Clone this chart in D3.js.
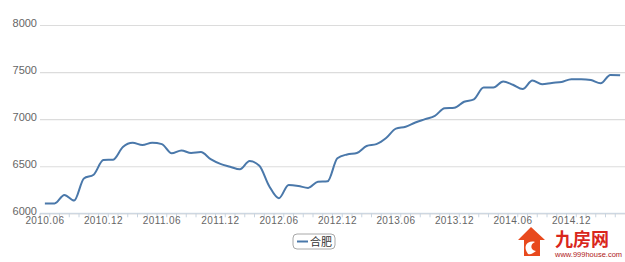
<!DOCTYPE html>
<html>
<head>
<meta charset="utf-8">
<script src="https://cdn.jsdelivr.net/npm/d3@7"></script>
<style>
  html, body { margin: 0; padding: 0; background: #fff; }
  svg { display: block; font-family: "Liberation Sans", Arial, sans-serif; }
</style>
</head>
<body>
<svg id="chart" width="625" height="262"></svg>
<script>
const months = [
  "2010.06", "2010.07", "2010.08", "2010.09", "2010.10", "2010.11", "2010.12",
  "2011.01", "2011.02", "2011.03", "2011.04", "2011.05", "2011.06", "2011.07", "2011.08", "2011.09", "2011.10", "2011.11", "2011.12",
  "2012.01", "2012.02", "2012.03", "2012.04", "2012.05", "2012.06", "2012.07", "2012.08", "2012.09", "2012.10", "2012.11", "2012.12",
  "2013.01", "2013.02", "2013.03", "2013.04", "2013.05", "2013.06", "2013.07", "2013.08", "2013.09", "2013.10", "2013.11", "2013.12",
  "2014.01", "2014.02", "2014.03", "2014.04", "2014.05", "2014.06", "2014.07", "2014.08", "2014.09", "2014.10", "2014.11", "2014.12",
  "2015.01", "2015.02", "2015.03", "2015.04", "2015.05"
];

const hefei = [
  6105, 6105, 6195, 6135, 6370, 6410, 6565,
  6570, 6705, 6750, 6725, 6750, 6735, 6637, 6668, 6640, 6650, 6575, 6525,
  6495, 6467, 6555, 6505, 6290, 6160, 6300, 6290, 6270, 6335, 6340, 6585,
  6625, 6640, 6715, 6735, 6800, 6900, 6920, 6965, 7000, 7035, 7115, 7120,
  7185, 7210, 7335, 7335, 7400, 7365, 7320, 7410, 7370, 7385, 7395, 7425,
  7425, 7415, 7380, 7470, 7465
];

const xLabels = ["2010.06", "2010.12", "2011.06", "2011.12", "2012.06", "2012.12", "2013.06", "2013.12", "2014.06", "2014.12"];
const yTicks = [6000, 6500, 7000, 7500, 8000];
const seriesName = "合肥";

const svg = d3.select("#chart");
const plotLeft = 40, plotRight = 625, plotTop = 25, plotBottom = 213.3;

const x = d3.scaleBand().domain(months).range([plotLeft, plotRight]);
const y = d3.scaleLinear().domain([6000, 8000]).range([plotBottom, plotTop]);

// grid + y labels
const yAxis = d3.axisLeft(y).tickValues(yTicks).tickSize(-(plotRight - plotLeft)).tickPadding(4).tickFormat(d3.format("d"));
const gy = svg.append("g").attr("transform", `translate(${plotLeft},0)`).call(yAxis);
gy.select(".domain").remove();
gy.selectAll(".tick line").attr("stroke", "#dcdcdc").attr("stroke-width", 1.2);
gy.selectAll(".tick text").attr("fill", "#666").attr("font-size", 11).attr("x", -3).attr("dy", "0.15em");

// x axis line with small ticks at category borders
svg.append("line")
  .attr("x1", plotLeft).attr("x2", plotRight)
  .attr("y1", plotBottom).attr("y2", plotBottom)
  .attr("stroke", "#c8d4e0").attr("stroke-width", 1);
svg.append("g").selectAll("line")
  .data(months)
  .join("line")
  .attr("x1", (m) => x(m)).attr("x2", (m) => x(m))
  .attr("y1", plotBottom).attr("y2", plotBottom + 4)
  .attr("stroke", "#c8d4e0");

const xAxis = d3.axisBottom(x).tickValues(xLabels).tickSize(0).tickPadding(4);
const gx = svg.append("g").attr("transform", `translate(0,${plotBottom})`).call(xAxis);
gx.select(".domain").remove();
gx.selectAll(".tick text").attr("fill", "#666").attr("font-size", 10).attr("letter-spacing", "0.4px");

// line
const line = d3.line()
  .x((d, i) => x(months[i]) + x.bandwidth() / 2)
  .y((d) => y(d))
  .curve(d3.curveMonotoneX);

svg.append("path")
  .datum(hefei)
  .attr("d", line)
  .attr("fill", "none")
  .attr("stroke", "#4a78aa")
  .attr("stroke-width", 2);

// legend
const legend = svg.append("g").attr("transform", "translate(293,234)");
legend.append("rect")
  .attr("width", 42).attr("height", 15).attr("rx", 4)
  .attr("fill", "#fff").attr("stroke", "#a8a8a8");
legend.append("line")
  .attr("x1", 4).attr("x2", 15).attr("y1", 7.5).attr("y2", 7.5)
  .attr("stroke", "#4a78aa").attr("stroke-width", 2);
legend.append("text")
  .attr("x", 17).attr("y", 11.5)
  .attr("font-size", 11).attr("fill", "#333")
  .attr("font-family", "Noto Sans CJK SC")
  .text(seriesName);

// watermark
const wm = svg.append("g").attr("transform", "translate(518,227)");
wm.append("path")
  .attr("d", "M13,0 L27,13 L22,13 L22,29 L6,29 L6,13 L0,13 Z")
  .attr("fill", "#e8491d");
wm.append("path")
  .attr("d", "M10,27 C4,19 10,13 17,15 C12,17 12,23 18,24 C15,26 13,28 10,27 Z")
  .attr("fill", "#fff");
wm.append("text")
  .attr("x", 37).attr("y", 19)
  .attr("font-size", 18).attr("font-weight", "bold")
  .attr("fill", "#d9261c")
  .attr("font-family", "Noto Sans CJK SC")
  .text("九房网");
wm.append("text")
  .attr("x", 37).attr("y", 29.5)
  .attr("font-size", 7.5)
  .attr("fill", "#b01818")
  .text("www.999house.com");
</script>
</body>
</html>
